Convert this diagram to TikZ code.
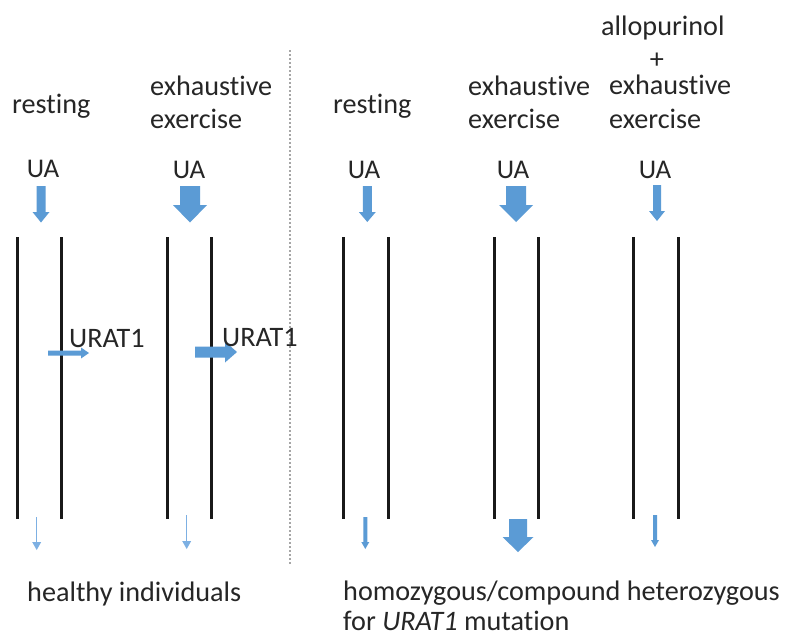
\documentclass[tikz,border=0pt]{standalone}
\usepackage{fontspec}
\setmainfont{Carlito}[Ligatures={NoCommon,NoRare,NoContextual}]
\definecolor{ablue}{HTML}{5B9BD5}
\definecolor{lblue}{HTML}{7DB0E3}
\definecolor{txt}{HTML}{262626}
% cx, top, tip, shaft width, head width, head start
\newcommand\blkdown[6]{%
  \fill[ablue] ({#1-#4/2},#2) -- ({#1+#4/2},#2) -- ({#1+#4/2},#6) -- ({#1+#5/2},#6)
    -- (#1,#3) -- ({#1-#5/2},#6) -- ({#1-#4/2},#6) -- cycle;}
% cy, left, tip, shaft thickness, head height, head start
\newcommand\blkright[6]{%
  \fill[ablue] (#2,{#1-#4/2}) -- (#6,{#1-#4/2}) -- (#6,{#1-#5/2}) -- (#3,#1)
    -- (#6,{#1+#5/2}) -- (#6,{#1+#4/2}) -- (#2,{#1+#4/2}) -- cycle;}
% thin arrow: cx, top, tip
\newcommand\thindown[3]{%
  \draw[lblue, line width=1.4pt] (#1,#2) -- (#1,{#3-6});
  \fill[lblue] ({#1-4.5},{#3-8}) -- ({#1+4.5},{#3-8}) -- (#1,#3) -- cycle;}
\tikzset{
  lbl/.style={font=\fontsize{28.2}{33}\selectfont, inner sep=0pt, anchor=base west, text=txt},
  ua/.style={font=\fontsize{27}{32}\selectfont, inner sep=0pt, anchor=base, text=txt},
  membrane/.style={line width=3pt, black!90},
  divider/.style={line width=1.2pt, gray!70, dash pattern=on 2pt off 2pt}
}
\begin{document}
\begin{tikzpicture}[x=1pt,y=-1pt]
\useasboundingbox (0,0) rectangle (785,637);
\fill[white] (0,0) rectangle (785,637);

% membranes
\foreach \x/\n in {17/a1,61/a2,167/b1,211/b2,343/c1,388/c2,494/d1,538/d2,633/e1,678/e2}{
  \coordinate (\n t) at (\x,237);
  \coordinate (\n b) at (\x,519);
  \draw[membrane] (\n t) -- (\n b);
}

% divider
\coordinate (dvt) at (290,50);
\coordinate (dvb) at (290,565);
\draw[divider] (dvt) -- (dvb);

% top labels
\node[lbl] (rest1) at (12,113) {resting};
\node[lbl] (ex2a) at (150,95) {exhaustive};
\node[lbl] (ex2b) at (150,128) {exercise};
\node[lbl] (rest3) at (333,113) {resting};
\node[lbl] (ex4a) at (468,95) {exhaustive};
\node[lbl] (ex4b) at (468,128) {exercise};
\node[lbl] (allo) at (601,35) {allopurinol};
\node[lbl, anchor=base] (plus) at (657,68) {+};
\node[lbl] (ex5a) at (609,94) {exhaustive};
\node[lbl] (ex5b) at (609,128) {exercise};

% UA labels
\node[ua] (ua1) at (43,177) {UA};
\node[ua] (ua2) at (189,178) {UA};
\node[ua] (ua3) at (364,178) {UA};
\node[ua] (ua4) at (513,178) {UA};
\node[ua] (ua5) at (655,178) {UA};

% UA influx arrows
\blkdown{41}{186}{222.5}{9}{17}{212}
\blkdown{190}{186}{222.5}{20}{34}{205}
\blkdown{367.3}{186}{222}{9}{17}{212}
\blkdown{516}{186}{222}{20}{34}{205}
\blkdown{657}{185}{221}{8}{16}{211}

% URAT1 arrows and labels
\blkright{353}{48}{89}{5}{11}{81}
\blkright{352}{195}{237}{11}{21}{225}
\node[lbl] (urat1) at (69,347) {URAT1};
\node[lbl] (urat2) at (222,346) {URAT1};

% bottom arrows
\thindown{36.7}{517}{550}
\thindown{186.7}{515}{549}
\blkdown{365.3}{517}{549}{4}{8}{542}
\blkdown{518}{519}{552}{18}{31}{537}
\blkdown{655}{515}{547}{4}{8}{540}

% bottom labels
\node[lbl] (healthy) at (27,601) {healthy individuals};
\node[lbl] (homo) at (343,600) {homozygous/compound heterozygous};
\node[lbl] (forur) at (343,630) {for \textit{URAT1} mutation};
\end{tikzpicture}
\end{document}
